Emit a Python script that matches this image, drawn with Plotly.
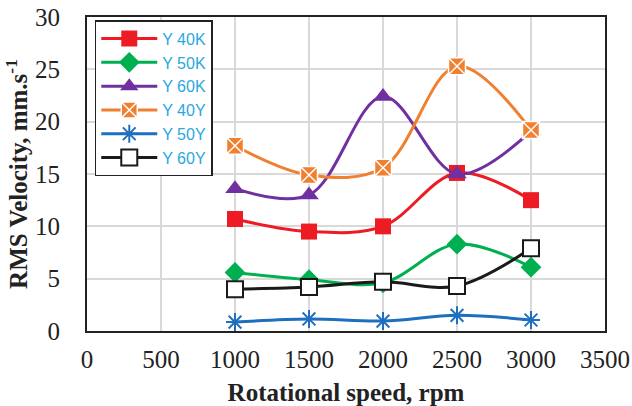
import plotly.graph_objects as go

speeds = [1000, 1500, 2000, 2500, 3000]
y40k = [10.7, 9.5, 10.0, 15.1, 12.5]
y50k = [5.6, 4.9, 4.6, 8.3, 6.1]
y60k = [13.6, 13.0, 22.4, 15.0, 19.1]
y40y = [17.7, 14.9, 15.6, 25.3, 19.2]
y50y = [0.85, 1.15, 0.95, 1.5, 1.05]
y60y = [4.0, 4.2, 4.7, 4.3, 7.9]

x_ticks = [0, 500, 1000, 1500, 2000, 2500, 3000, 3500]
y_ticks = [0, 5, 10, 15, 20, 25, 30]

series = [
    ("Y 40K", y40k, "#ed1c24", dict(symbol="square", size=16, color="#ed1c24", line=dict(width=0))),
    ("Y 50K", y50k, "#00b050", dict(symbol="diamond", size=16, color="#00b050", line=dict(width=0))),
    ("Y 60K", y60k, "#7030a0", dict(symbol="triangle-up", size=17, color="#7030a0", line=dict(width=0))),
    ("Y 40Y", y40y, "#f08030", dict(symbol="square-x", size=17, color="#f08030", line=dict(width=1.5, color="white"))),
    ("Y 50Y", y50y, "#1f6fc0", dict(symbol="asterisk-open", size=15, color="#1f6fc0", line=dict(width=2, color="#1f6fc0"))),
    ("Y 60Y", y60y, "#1a1a1a", dict(symbol="square", size=16, color="white", line=dict(width=2, color="#1a1a1a"))),
]

fig = go.Figure()
for name, vals, col, mk in series:
    fig.add_trace(go.Scatter(
        x=speeds, y=vals, name=name, mode="lines+markers",
        line=dict(color=col, width=3, shape="spline", smoothing=1.0),
        marker=mk,
    ))

serif = "Liberation Serif"
fig.update_layout(
    width=632, height=406,
    margin=dict(l=87, r=27, t=17, b=75, autoexpand=False),
    paper_bgcolor="white", plot_bgcolor="white",
    showlegend=True,
    legend=dict(
        x=0.015, y=0.99, xanchor="left", yanchor="top",
        bgcolor="white", bordercolor="#222", borderwidth=1.5,
        font=dict(family="Liberation Sans", size=16, color="#2aa8e0"),
        itemwidth=56, tracegroupgap=0,
    ),
    xaxis=dict(
        range=[0, 3500], tickvals=x_ticks, ticktext=[str(v) for v in x_ticks],
        showgrid=True, gridcolor="#d9d9d9", gridwidth=1.5,
        showline=True, linecolor="#222", linewidth=2, mirror=True,
        ticks="", zeroline=False, automargin=False, ticklabelstandoff=5,
        tickfont=dict(family=serif, size=25, color="#222"),
        title=dict(text="<b>Rotational speed, rpm</b>", standoff=13,
                   font=dict(family=serif, size=25, color="#222")),
    ),
    yaxis=dict(
        range=[0, 30], tickvals=y_ticks, ticktext=[str(v) for v in y_ticks],
        showgrid=True, gridcolor="#d9d9d9", gridwidth=1.5,
        showline=True, linecolor="#222", linewidth=2, mirror=True,
        ticks="", zeroline=False, automargin=False, ticklabelstandoff=20,
        tickfont=dict(family=serif, size=25, color="#222"),
        title=dict(text="<b>RMS Velocity, mm.s<sup>-1</sup></b>", standoff=0,
                   font=dict(family=serif, size=25, color="#222")),
    ),
)

fig.write_html("out.html", config={"displayModeBar": False},
               post_script="document.body.style.margin='0px';")
